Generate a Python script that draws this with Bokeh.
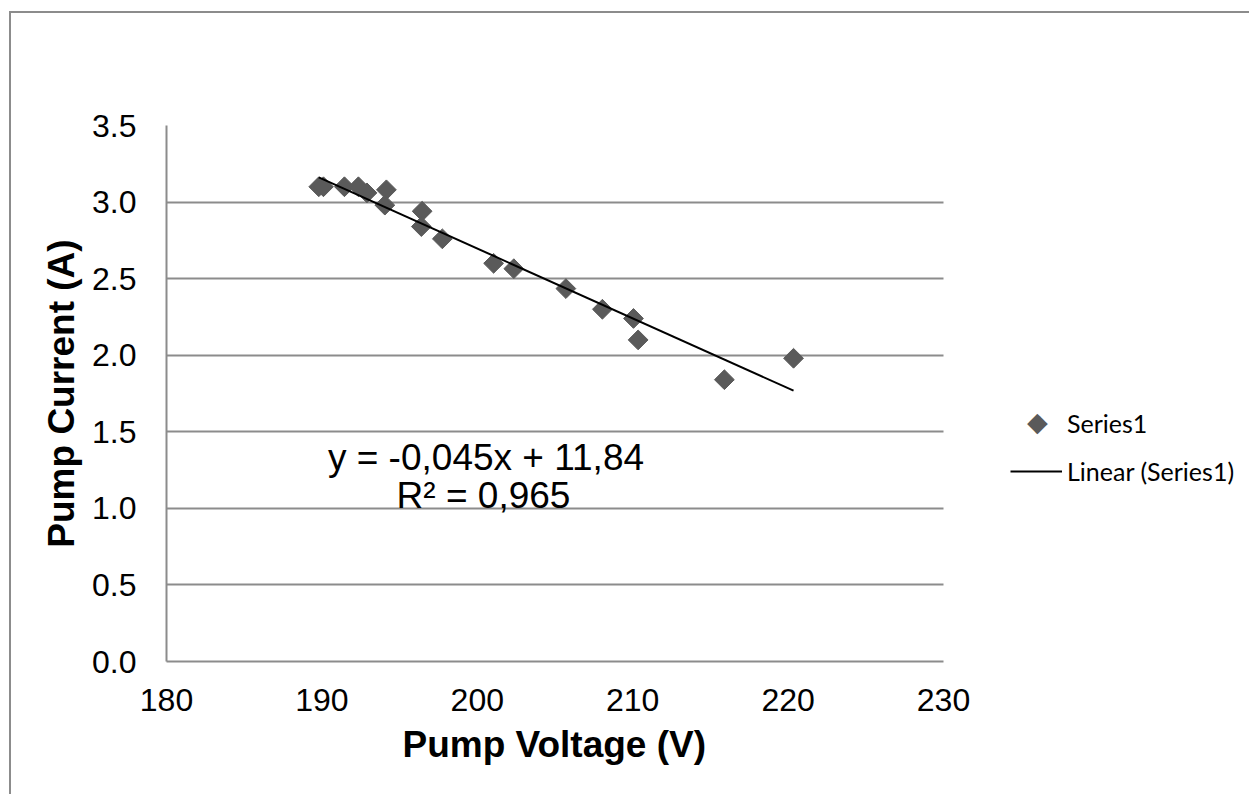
import numpy as np
from bokeh.plotting import figure
from bokeh.models import (Range1d, FixedTicker, PrintfTickFormatter, Label,
                          Legend, LegendItem, Title)
from bokeh.embed import file_html
from bokeh.resources import INLINE

# ---- data ----
voltage = [189.8, 190.1, 191.45, 192.35, 192.9, 194.15, 194.05, 196.45, 196.4,
           197.75, 201.05, 202.35, 205.7, 208.05, 210.05, 210.35, 215.9, 220.35]
current = [3.10, 3.10, 3.10, 3.10, 3.06, 3.08, 2.98, 2.94, 2.84,
           2.76, 2.60, 2.565, 2.435, 2.30, 2.24, 2.10, 1.84, 1.98]
x_ticks = [180, 190, 200, 210, 220, 230]
y_ticks = [0.0, 0.5, 1.0, 1.5, 2.0, 2.5, 3.0, 3.5]
series_name = "Series1"
trend_name = "Linear (Series1)"
eq_text = "y = -0,045x + 11,84"
r2_text = "R² = 0,965"
x_title = "Pump Voltage (V)"
y_title = "Pump Current (A)"

# linear trendline computed from the data
slope, intercept = np.polyfit(voltage, current, 1)
tx = [min(voltage), max(voltage)]
ty = [slope * v + intercept for v in tx]

# layout: the data area is 777 px wide; the frame continues to the right so
# that the legend can live inside it (axis line and grid are bounded to 180-230)
DATA_W, FRAME_W, FRAME_H = 777, 1083, 536
x_lo, x_hi = x_ticks[0], x_ticks[-1]
x_end = x_hi + (FRAME_W - DATA_W) * (x_hi - x_lo) / DATA_W

GRID = "#8c8c8c"
MARK = "#5a5a5a"
p = figure(width=1238, height=781, output_backend="svg", toolbar_location=None,
           x_range=Range1d(x_lo, x_end),
           y_range=Range1d(y_ticks[0], y_ticks[-1]),
           frame_width=FRAME_W, frame_height=FRAME_H,
           min_border_left=155, min_border_right=0,
           min_border_top=112, min_border_bottom=133)
p.styles = {"margin-left": "9px", "margin-top": "11px",
            "border-left": "2px solid #8c8c8c", "border-top": "2px solid #8c8c8c"}
p.outline_line_color = None
p.background_fill_color = "white"
p.border_fill_color = "white"

# axes
for ax in (p.xaxis[0], p.yaxis[0]):
    ax.axis_line_color = GRID
    ax.axis_line_width = 2
    ax.major_tick_line_color = None
    ax.minor_tick_line_color = None
    ax.major_label_text_font = "Liberation Sans"
    ax.major_label_text_font_size = "32px"
    ax.major_label_text_color = "black"
    ax.axis_label_text_font = "Liberation Sans"
    ax.axis_label_text_font_size = "37px"
    ax.axis_label_text_font_style = "bold"
    ax.axis_label_text_color = "black"

p.xaxis.ticker = FixedTicker(ticks=x_ticks)
p.yaxis.ticker = FixedTicker(ticks=y_ticks)
p.yaxis.formatter = PrintfTickFormatter(format="%.1f")
p.xaxis.bounds = (x_lo, x_hi)
p.yaxis.axis_label = y_title
p.xaxis.major_label_standoff = 21
p.yaxis.major_label_standoff = 24
p.yaxis.axis_label_standoff = 7

# x-axis title centred under the 180-230 data area (the frame runs wider)
p.add_layout(Title(text=x_title, align="left", offset=236, standoff=17,
                   vertical_align="bottom", text_font="Liberation Sans",
                   text_font_size="37px", text_font_style="bold",
                   text_color="black"), "below")

p.xgrid.grid_line_color = None
p.ygrid.grid_line_color = GRID
p.ygrid.grid_line_width = 2
p.ygrid.cross_bounds = (x_lo, x_hi)

pts = p.scatter(voltage, current, marker="square", angle=np.pi / 4, size=14,
                fill_color=MARK, line_color=MARK)
ln = p.line(tx, ty, line_color="black", line_width=2)
# invisible stand-in so the legend row shows the diamond symbol instead
ghost = p.scatter(voltage[:1], current[:1], marker="square", size=1,
                  fill_alpha=0, line_alpha=0)

# trendline equation
p.add_layout(Label(x=200.56, y=1.33, text=eq_text, text_align="center",
                   text_baseline="middle", text_font="Liberation Sans",
                   text_font_size="37px", text_color="black"))
p.add_layout(Label(x=200.4, y=1.085, text=r2_text, text_align="center",
                   text_baseline="middle", text_font="Liberation Sans",
                   text_font_size="37px", text_color="black"))

legend = Legend(items=[LegendItem(label=series_name, renderers=[ghost]),
                       LegendItem(label=trend_name, renderers=[ln])],
                location=(844, 175), orientation="vertical",
                glyph_width=52, glyph_height=30, label_height=30,
                label_standoff=5, spacing=18, padding=0, margin=0,
                border_line_color=None, background_fill_alpha=0,
                label_text_font="Lato", label_text_font_size="25px",
                label_text_color="black")
sym_legend = Legend(items=[LegendItem(label="◆", renderers=[ghost])],
                    location=(861, 224), orientation="vertical",
                    glyph_width=0, glyph_height=30, label_height=30,
                    label_standoff=0, spacing=0, padding=0, margin=0,
                    border_line_color=None, background_fill_alpha=0,
                    label_text_font="DejaVu Sans", label_text_font_size="27px",
                    label_text_color=MARK)
p.add_layout(legend, "center")
p.add_layout(sym_legend, "center")

open("out.html", "w").write(file_html(p, INLINE))
